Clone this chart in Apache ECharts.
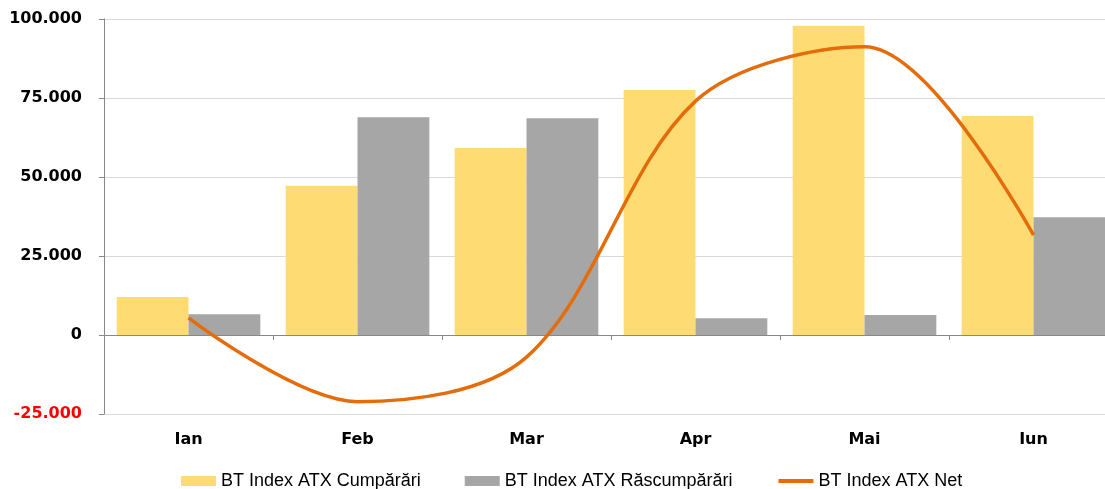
<!DOCTYPE html>
<html>
<head>
<meta charset="utf-8">
<script src="https://cdn.jsdelivr.net/npm/echarts@6/dist/echarts.min.js"></script>
<style>
  html, body { margin: 0; padding: 0; background: #fff; }
  #main { width: 1105px; height: 489px; }
</style>
</head>
<body>
<div id="main"></div>
<script>
// date
var luni = ['Ian', 'Feb', 'Mar', 'Apr', 'Mai', 'Iun'];
var cumparari = [12000, 47200, 59200, 77500, 97900, 69300];
var rascumparari = [6600, 68900, 68600, 5300, 6300, 37300];
var net = [5400, -21100, -7000, 74000, 91200, 31600];
var yTicks = [-25000, 0, 25000, 50000, 75000, 100000];

var numeSerii = ['BT Index ATX Cumpărări', 'BT Index ATX Răscumpărări', 'BT Index ATX Net'];

function formatNumar(v) {
    var s = String(Math.abs(v)).replace(/\B(?=(\d{3})+(?!\d))/g, '.');
    return (v < 0 ? '-' : '') + s;
}

var myChart = echarts.init(document.getElementById('main'));

var option = {
    animation: false,
    textStyle: { fontFamily: 'DejaVu Sans' },
    grid: {
        left: 104,
        top: 19,
        bottom: 75,
        width: 1014,
        containLabel: false,
        outerBoundsMode: 'none'
    },
    legend: {
        data: [
            { name: numeSerii[0], icon: 'rect' },
            { name: numeSerii[1], icon: 'rect' },
            { name: numeSerii[2], itemStyle: { opacity: 0 }, lineStyle: { width: 4 } }
        ],
        left: 176,
        top: 467,
        itemWidth: 35,
        itemHeight: 10,
        itemGap: 44,
        textStyle: { fontSize: 18, color: '#000', fontFamily: 'Liberation Sans' }
    },
    xAxis: [
        {
            // axa la zero, doar linia si gradatiile
            type: 'category',
            data: luni,
            axisLine: { onZero: true, lineStyle: { color: '#888', width: 1 } },
            axisTick: { show: true, length: 5, lineStyle: { color: '#888' } },
            axisLabel: { show: false }
        },
        {
            // axa de jos, doar etichetele lunilor
            type: 'category',
            data: luni,
            position: 'bottom',
            axisLine: { show: false, onZero: false },
            axisTick: { show: false },
            axisLabel: {
                margin: 18,
                fontSize: 16,
                fontWeight: 'bold',
                color: '#000'
            }
        }
    ],
    yAxis: {
        type: 'value',
        min: yTicks[0],
        max: yTicks[yTicks.length - 1],
        interval: 25000,
        axisLine: { show: true, lineStyle: { color: '#888' } },
        axisTick: { show: true, length: 5, lineStyle: { color: '#888' } },
        splitLine: { lineStyle: { color: '#d9d9d9', width: 1 } },
        axisLabel: {
            margin: 22,
            fontSize: 16,
            fontWeight: 'bold',
            formatter: formatNumar,
            color: function (v) {
                return Number(v) < 0 ? '#ff0000' : '#000';
            }
        }
    },
    series: [
        {
            name: numeSerii[0],
            type: 'bar',
            data: cumparari,
            barGap: '0%',
            barCategoryGap: '15%',
            itemStyle: { color: '#FFDC73' }
        },
        {
            name: numeSerii[1],
            type: 'bar',
            data: rascumparari,
            itemStyle: { color: '#A6A6A6' }
        },
        {
            name: numeSerii[2],
            type: 'line',
            data: net,
            smooth: 0.33,
            symbol: 'none',
            lineStyle: { color: '#E46C0A', width: 3.5 },
            itemStyle: { color: '#E46C0A' }
        }
    ]
};

myChart.setOption(option);
</script>
</body>
</html>
